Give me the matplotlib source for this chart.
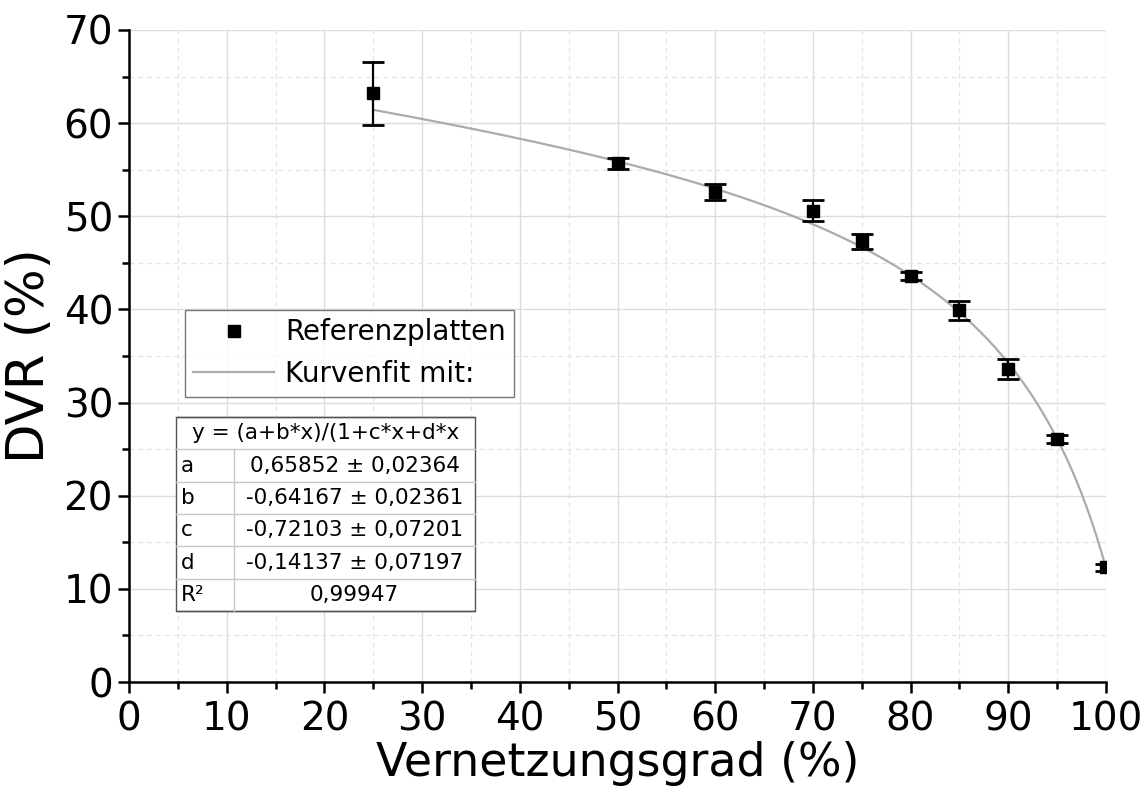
import numpy as np
import matplotlib
matplotlib.use('Agg')
import matplotlib.pyplot as plt
from matplotlib.patches import Rectangle
from matplotlib.lines import Line2D

# Messwerte Referenzplatten
vernetzung = [25, 50, 60, 70, 75, 80, 85, 90, 95, 100]
dvr = [63.2, 55.7, 52.6, 50.6, 47.3, 43.6, 39.9, 33.6, 26.1, 12.3]
dvr_err = [3.4, 0.6, 0.85, 1.1, 0.8, 0.45, 1.0, 1.05, 0.4, 0.4]

# Fitparameter y = (a+b*x)/(1+c*x+d*x^2), x und y als Anteil
fit_a, fit_b, fit_c, fit_d = 0.65852, -0.64167, -0.72103, -0.14137
fit_r2 = '0,99947'
table_rows = [
    ('a', '0,65852 ± 0,02364'),
    ('b', '-0,64167 ± 0,02361'),
    ('c', '-0,72103 ± 0,07201'),
    ('d', '-0,14137 ± 0,07197'),
    ('R²', fit_r2),
]

plt.rcParams['font.family'] = ['DejaVu Sans']

fig = plt.figure(figsize=(11.48, 7.99), dpi=100)
ax = fig.add_axes([0.1124, 0.1464, 0.851, 0.8161])

# Fitkurve
xf = np.linspace(25, 100, 300) / 100
yf = (fit_a + fit_b * xf) / (1 + fit_c * xf + fit_d * xf ** 2)
ax.plot(xf * 100, yf * 100, color='#ababab', lw=1.6, zorder=3)

ax.errorbar(vernetzung, dvr, yerr=dvr_err, fmt='s', color='black',
            markersize=8, capsize=8, capthick=2.0, elinewidth=1.6, zorder=4)

ax.set_xlim(0, 100)
ax.set_ylim(0, 70)
ax.set_xticks(np.arange(0, 101, 10))
ax.set_xticks(np.arange(0, 101, 5), minor=True)
ax.set_yticks(np.arange(0, 71, 10))
ax.set_yticks(np.arange(0, 71, 5), minor=True)

ax.grid(True, which='major', color='#dcdcdc', lw=1.0, zorder=0)
ax.grid(True, which='minor', color='#e4e4e4', lw=0.9, ls=(0, (4, 3)), zorder=0)
ax.set_axisbelow(True)

for s in ['top', 'right']:
    ax.spines[s].set_visible(False)
for s in ['left', 'bottom']:
    ax.spines[s].set_linewidth(1.8)

ax.tick_params(which='major', direction='out', length=8, width=1.8, labelsize=28)
ax.tick_params(which='minor', direction='out', length=5, width=1.8)
ax.tick_params(axis='x', pad=5)

ax.set_xlabel('Vernetzungsgrad (%)', fontsize=33, labelpad=2)
ax.set_ylabel('DVR (%)', fontsize=37, labelpad=6)

# Legende
handles = [
    Line2D([], [], marker='s', color='black', ls='none', markersize=8),
    Line2D([], [], color='#ababab', lw=1.6),
]
leg = ax.legend(handles, ['Referenzplatten', 'Kurvenfit mit:'],
                loc='upper left', bbox_to_anchor=(0.0573, 0.5706),
                fontsize=20, frameon=True, fancybox=False,
                handlelength=2.9, handletextpad=0.4, borderpad=0.3,
                labelspacing=0.5, borderaxespad=0)
leg.get_frame().set_edgecolor('#555555')
leg.get_frame().set_linewidth(1.0)

# Parametertabelle
x0, x1, xm = 0.0482, 0.3541, 0.1075
row_h = 0.0496
y_top = 0.4064
n_rows = len(table_rows) + 1
for i in range(n_rows + 1):
    yy = y_top - i * row_h
    ax.plot([x0, x1], [yy, yy], transform=ax.transAxes,
            color='#555555' if i in (0, n_rows) else '#c8c8c8',
            lw=1.0, zorder=6, clip_on=False)
ax.add_patch(Rectangle((x0, y_top - n_rows * row_h), x1 - x0, n_rows * row_h,
                       transform=ax.transAxes, facecolor='white',
                       edgecolor='#555555', lw=1.0, zorder=5))
ax.plot([xm, xm], [y_top - row_h, y_top - n_rows * row_h], transform=ax.transAxes,
        color='#c8c8c8', lw=1.0, zorder=6)
ax.text((x0 + x1) / 2, y_top - row_h / 2, 'y = (a+b*x)/(1+c*x+d*x',
        transform=ax.transAxes, ha='center', va='center', fontsize=15.5, zorder=7)
for i, (name, val) in enumerate(table_rows):
    yc = y_top - (i + 1.5) * row_h
    ax.text(x0 + 0.005, yc, name, transform=ax.transAxes, ha='left',
            va='center', fontsize=15.5, zorder=7)
    ax.text((xm + x1) / 2, yc, val, transform=ax.transAxes, ha='center',
            va='center', fontsize=15.5, zorder=7)

fig.savefig('out.png', dpi=100)
